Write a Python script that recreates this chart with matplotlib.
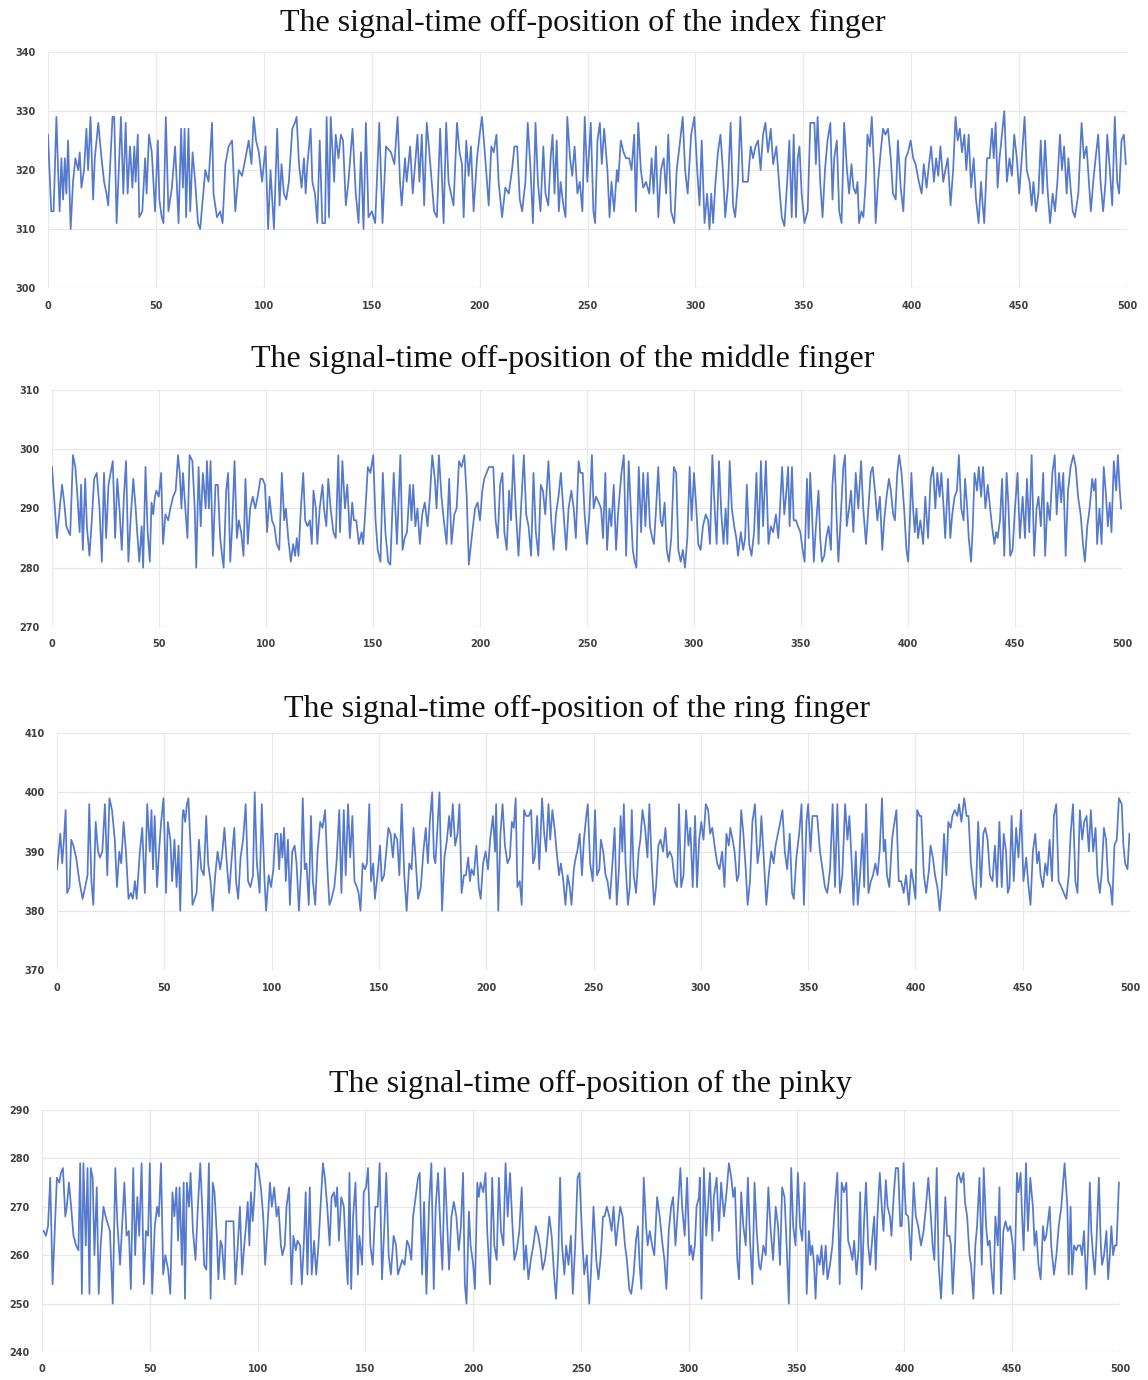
import matplotlib
matplotlib.use("Agg")
import matplotlib.pyplot as plt

# (sample, signal)
index_finger = [
    (0, 326), (1.5, 313), (2.6, 313), (3.9, 329), (4.7, 320), (5.4, 313), (6.2, 322), (7, 315), (7.8, 322), (8.5, 316),
    (9.3, 325), (10.5, 310), (11.6, 318), (12.7, 322), (14, 320), (14.7, 323), (15.5, 317), (16.7, 320), (17.8, 327),
    (18.6, 320), (19.7, 329), (20.9, 315), (21.7, 322), (23.3, 328), (24.8, 322), (26, 318), (27.1, 316), (27.9, 314),
    (29.9, 329), (30.7, 329), (31.8, 311), (33.8, 329), (34.9, 316), (36, 328), (36.9, 316), (38, 324), (39.1, 317),
    (40, 324), (40.6, 318), (41.6, 326), (42.3, 312), (43.7, 313), (45, 322), (45.7, 316), (46.8, 326), (48.1, 323),
    (49.6, 313), (50.9, 325), (51.6, 315), (52.7, 312), (53.5, 311), (54.6, 329), (55.8, 313), (57.4, 317), (58.9, 324),
    (60.5, 311), (61.7, 327), (62.5, 317), (63.3, 327), (64, 312), (65.1, 327), (65.9, 313), (67, 323), (68.2, 318),
    (69.5, 311), (70.5, 310), (72.9, 320), (74.4, 318), (76, 328), (76.7, 316), (78.3, 312), (79.8, 313), (80.9, 311),
    (82.2, 321), (83.7, 324), (85.3, 325), (86.8, 313), (88.4, 320), (89.9, 319), (91.5, 322), (93, 325), (94.3, 321),
    (95.3, 329), (96.4, 325), (97.7, 323), (99.2, 318), (100.8, 324), (102, 310), (103.1, 320), (104.7, 310),
    (106.2, 327), (107.3, 314), (108.2, 321), (109.3, 316), (110.4, 315), (111.6, 318), (113.2, 327), (114.4, 328),
    (115.2, 329), (116.3, 321), (117.5, 317), (118.6, 322), (119.4, 316), (120.2, 321), (121.7, 327), (122.5, 318),
    (123.7, 316), (124.8, 311), (125.9, 325), (127.1, 311), (128.4, 311), (129.1, 329), (130.2, 312), (131, 329),
    (132.6, 318), (133.3, 326), (134.6, 322), (135.7, 326), (136.7, 325), (138, 314), (139.2, 318), (141.1, 327),
    (142.6, 316), (143.9, 311), (145, 323), (146.2, 310), (147.3, 328), (148.5, 312), (150.1, 313), (151.6, 311),
    (153.5, 328), (155, 311), (156.6, 324), (158.9, 323), (160.5, 321), (162, 329),
    (163.1, 318), (163.9, 314), (165.4, 322), (166.2, 318), (167.8, 324), (169, 316), (170.1, 321), (171.2, 326),
    (172.1, 318), (173.2, 326), (174.3, 314), (175.5, 328), (176.7, 323), (177.8, 318), (178.9, 313), (180.2, 312),
    (181.7, 327), (183.3, 311), (184.5, 328), (185.6, 318), (186.7, 316), (187.9, 314), (189.5, 328), (190.7, 323),
    (191.8, 321), (192.6, 312), (193.8, 325), (194.9, 319), (196, 324), (197.2, 313), (198.8, 322), (200, 326),
    (201.1, 329), (202.6, 322), (204.2, 314), (205.4, 324), (206.5, 323), (207.8, 326), (208.8, 318), (210.4, 312),
    (211.9, 317), (213.5, 316), (215, 320), (216.1, 324), (217.4, 324), (218.6, 315), (219.7, 313), (221.2, 318),
    (222.3, 328), (223.6, 320), (224.7, 311), (225.9, 328), (227, 318), (228.2, 313), (229.5, 324), (230.5, 316),
    (231.8, 314), (232.9, 322), (233.8, 326), (234.7, 316), (235.7, 325), (236.7, 313), (237.5, 318), (238.8, 314),
    (239.8, 312), (240.6, 329), (241.9, 322), (242.9, 319), (244, 324), (245.3, 316), (246.4, 318), (247.6, 313),
    (248.7, 329), (249.9, 318), (251.5, 328), (252.7, 313), (253.5, 311), (254.6, 325), (255.7, 328), (256.6, 321),
    (257.7, 327), (259.2, 320), (260.2, 312), (261.1, 318), (262.3, 313), (263.6, 320), (264.2, 318), (265.4, 325),
    (266.7, 323), (267.8, 322), (269.3, 322), (270.4, 320), (271.6, 326), (272.4, 313), (273.5, 328), (274.7, 320),
    (275.8, 317), (277.1, 318), (278.6, 316), (279.7, 322), (280.6, 316), (281.7, 324), (282.8, 312), (284, 320),
    (285.3, 322), (286.4, 316), (287.4, 326), (288.7, 313), (290.2, 311), (291.3, 320), (292.6, 324), (294.1, 329),
    (295.2, 320), (296.4, 316), (298, 326), (299.5, 329), (300.8, 320), (301.9, 314), (302.9, 325), (304.2, 311),
    (305.4, 316), (306.5, 310), (307.3, 316), (308.2, 311), (309.1, 317), (310.4, 323), (311.6, 326), (312.7, 320),
    (313.8, 312), (315, 317), (316.3, 328), (317.4, 314), (318.4, 312), (319.7, 318), (320.8, 329), (322, 318),
    (323.1, 318), (324.3, 318), (325.6, 324), (326.7, 322), (327.8, 324), (329, 325), (330.2, 320), (331.3, 326),
    (332.4, 328), (333.6, 323), (334.9, 327), (336, 321), (337.5, 324), (339.1, 316),
    (340, 312), (341.2, 310.5), (342.5, 318), (343.5, 325), (344.6, 312), (345.5, 326), (346.6, 312), (347.4, 322),
    (348.2, 324), (349.2, 316), (350.5, 311), (352, 313), (353.2, 328), (354.3, 328), (355.1, 328), (355.8, 321),
    (356.6, 329), (357.8, 318), (358.9, 312), (360, 320), (361.2, 325), (362.5, 328), (363.5, 315), (364.3, 322),
    (365.5, 325), (366.6, 313), (367.7, 311), (368.9, 328), (370.2, 320), (371.2, 316), (372.3, 321), (373.2, 317),
    (374.3, 316), (375.1, 318), (375.8, 311), (376.9, 313), (377.8, 312), (378.9, 318), (379.7, 326), (380.8, 324),
    (381.7, 329), (382.8, 320), (383.5, 311), (384.6, 318), (385.8, 323), (386.9, 327), (388, 326), (389.2, 327),
    (390.5, 322), (391.5, 316), (392.8, 315), (393.8, 325), (395.1, 317), (396.3, 313), (397.4, 322), (398.5, 323),
    (399.7, 325), (400.9, 322), (402, 321), (403.5, 318), (404.8, 316), (405.8, 321), (407.1, 317), (408.2, 321),
    (409.2, 324), (410.5, 318), (411.5, 322), (412.5, 319), (413.5, 324), (414.8, 318), (415.8, 320), (416.9, 322),
    (418.2, 314), (419.4, 320), (420.5, 329), (421.5, 325), (422.5, 327), (423.5, 323), (424.6, 326), (425.5, 320),
    (426.6, 326), (427.7, 317), (428.9, 322), (430, 315), (431.2, 311), (432.3, 318), (433.1, 314), (433.8, 311),
    (435.1, 322), (436.3, 322), (437.4, 327), (438.2, 322), (439.1, 328), (440, 317), (440.9, 322), (442, 326),
    (443.1, 330), (444.3, 318), (445.5, 322), (446.6, 319), (447.7, 326), (448.9, 322), (450, 316), (451.2, 322),
    (452.5, 329), (453.5, 320), (454.8, 318), (455.8, 314), (456.6, 318), (457.8, 313), (458.9, 316), (460, 325),
    (460.9, 316), (462, 325), (463.1, 317), (464.3, 311), (465.5, 316), (466.6, 313), (467.7, 318), (468.9, 326),
    (469.8, 320), (470.8, 324), (472, 316), (472.8, 322), (473.8, 317), (474.8, 313), (475.8, 312), (477.4, 316),
    (478.9, 328), (480, 322), (481.2, 324), (482.3, 318), (483.2, 313), (484.3, 318), (485.4, 322), (486.6, 326),
    (487.7, 318), (488.9, 313), (490, 318), (490.8, 326), (492, 320), (493.1, 314), (494.3, 329), (495.4, 318),
    (496.3, 316), (497.4, 325), (498.5, 326), (499.4, 321),
]

middle_finger = [
    (0, 297), (2.3, 285), (3.6, 290), (4.7, 294), (5.7, 291), (6.7, 287), (7.8, 286), (8.5, 285.5), (9.8, 299),
    (10.9, 297), (11.9, 292), (12.9, 286), (13.6, 294), (14.4, 283), (15.5, 295), (16.3, 287), (17.5, 282), (18.6, 288),
    (19.7, 295), (20.9, 296), (22.2, 290), (23.3, 281), (24.3, 296), (25.3, 285), (26.4, 294), (27.4, 296), (28.4, 298),
    (29.5, 285), (30.5, 295), (31.5, 290), (32.6, 283), (33.6, 292), (34.6, 298), (35.7, 281), (36.7, 288), (38, 295),
    (39.1, 290), (39.8, 286), (40.8, 281), (41.9, 287), (42.6, 280), (43.7, 297), (44.7, 286), (45.7, 281), (46.5, 291),
    (47.3, 289), (48.1, 292), (48.8, 293), (49.9, 292), (51, 296), (51.9, 284), (53, 289), (54.3, 288), (55.3, 290),
    (56.6, 292), (57.8, 293), (58.9, 299), (59.7, 296), (60.5, 290), (61.2, 296), (62.5, 289), (63.3, 285), (64.3, 299),
    (65.6, 298), (66.7, 290), (67.4, 280), (68.5, 297), (69.5, 287), (70.5, 296), (71.8, 290), (72.4, 298), (73.3, 290),
    (74.1, 298), (75.2, 282), (76.4, 294), (77.5, 294), (78.6, 285), (79.5, 282), (80.2, 280), (81.4, 293), (82.3, 296),
    (83.3, 281), (84.2, 287), (85.3, 298), (86.4, 285), (87.3, 288), (88.4, 286), (89.5, 282), (90.4, 295), (91.5, 284),
    (92.6, 290), (93.8, 292), (95, 290), (96.1, 292), (97.4, 295), (98.4, 295), (99.5, 294), (100.5, 286), (101.6, 292),
    (102.8, 288), (103.9, 287), (105, 284), (106.2, 283), (107.4, 296), (108.5, 288), (109.3, 290), (110.4, 285),
    (111.6, 281), (112.7, 284), (113.6, 282), (114.4, 285), (115.2, 282), (116.3, 290), (117.4, 296), (118.3, 288),
    (119.4, 287), (120.5, 288), (121.4, 284), (122.2, 293), (123.3, 290), (124, 284), (125.1, 290), (126.4, 294),
    (127.1, 290), (128.2, 287), (129.1, 295), (130.2, 290), (131.5, 286), (132.6, 285), (133.8, 299), (134.6, 286),
    (135.7, 298), (136.9, 290), (138, 294), (139.2, 285), (140.3, 291), (141.1, 288), (142.2, 288), (143.4, 284),
    (144.7, 286), (145.4, 284), (146.5, 290), (147.6, 297), (148.8, 296), (150.1, 299), (151.2, 288), (152.2, 283),
    (153.5, 281), (154.6, 296), (155.8, 286), (157.1, 281), (158.1, 280.5), (159.7, 296), (161.2, 284),
    (162.8, 299), (163.8, 283), (164.8, 285), (165.9, 286), (167.2, 294), (168, 288), (168.8, 294), (169.8, 287),
    (170.8, 290), (171.9, 284), (173, 289), (174.2, 291), (175.5, 287), (176.6, 292), (177.7, 299), (178.9, 295),
    (179.7, 290), (180.8, 299), (182, 292), (183.1, 288), (184.4, 284), (185.6, 295), (186.7, 284), (188, 289),
    (189.1, 290), (190.2, 298), (191.4, 297), (192.7, 299), (193.8, 292), (194.8, 280.5), (196.1, 285), (197.7, 290),
    (198.9, 291), (200, 288), (201.1, 293), (202, 295), (203.1, 296), (204.2, 297), (205.2, 297), (206.2, 297),
    (207.3, 288), (208.3, 285), (209.4, 294), (210.5, 296), (211.4, 286), (212.5, 283), (213.6, 293), (214.5, 288),
    (215.6, 299), (216.7, 290), (218, 282), (219.2, 290), (220.5, 299), (221.6, 289), (222.7, 287), (223.9, 282),
    (225, 296), (226.1, 286), (227.3, 282), (228.4, 294), (229.4, 293), (230.5, 289), (232, 298), (233.3, 288),
    (234.4, 283), (235.5, 289), (236.7, 292), (237.8, 296), (239.1, 289), (240.3, 283), (241.4, 290), (242.7, 293),
    (243.8, 290), (244.8, 285), (246.1, 298), (246.9, 296), (248, 296), (248.9, 289), (250, 284), (251.1, 289),
    (252.3, 299), (253.1, 290), (254.2, 292), (255.5, 291), (256.6, 290), (257.5, 285), (258.6, 296), (259.4, 283),
    (260.5, 290), (261.4, 287), (262.5, 294), (263.6, 283), (264.5, 289), (266.1, 296), (267.2, 299), (268.3, 282),
    (269.5, 298), (270.6, 289), (271.4, 283), (272.3, 281), (273.1, 280), (274.2, 297), (275.3, 286), (276.3, 296),
    (277.3, 287), (278.4, 296), (279.4, 287), (280.5, 285), (281.3, 284), (282.3, 290), (283.3, 297), (284.4, 288),
    (285.2, 287), (286.3, 291), (287.3, 283), (288.3, 281), (289.4, 285), (290.6, 297), (291.7, 296), (292.7, 283),
    (293.8, 281), (294.8, 283), (295.8, 280), (296.9, 285), (298, 297), (298.9, 288), (300, 296), (301.1, 290),
    (302, 284), (303.1, 283), (304.2, 287), (305.5, 289), (306.6, 288), (307.5, 284), (308.6, 299), (309.8, 289),
    (310.6, 284), (311.7, 298), (312.8, 289), (313.8, 284), (314.8, 290), (315.6, 284), (316.7, 298), (317.7, 290),
    (318.8, 287), (319.8, 285), (320.6, 282), (321.9, 286), (323, 283), (323.9, 285), (324.7, 294), (325.8, 284),
    (326.9, 282), (328.1, 286), (329.2, 296), (330.2, 284), (331.3, 298), (332.3, 287), (333.6, 298), (334.8, 284),
    (335.9, 287), (337, 286), (338.3, 289), (339.4, 285),
    (339.9, 288), (341.2, 297), (342.2, 289), (343, 292), (344, 297), (344.7, 287), (345.8, 297), (346.6, 288),
    (347.7, 288), (348.6, 287), (349.7, 286), (350.8, 283), (351.7, 281), (352.8, 295), (353.6, 285), (354.3, 296),
    (355.1, 290), (356, 281), (357, 287), (358.2, 293), (359, 285), (359.8, 281), (360.9, 282), (361.8, 285),
    (362.9, 287), (364, 283), (364.7, 294), (365.7, 299), (366.7, 288), (367.5, 281), (368.8, 290), (369.8, 297),
    (370.6, 299), (371.4, 287), (372.5, 290), (373.4, 293), (374.5, 286), (375.6, 296), (376.8, 290), (378.1, 298),
    (379.1, 290), (380.4, 284), (381.5, 290), (382.6, 296), (383.5, 297), (384.6, 293), (385.7, 288), (386.9, 292),
    (388, 283), (388.9, 288), (390, 292), (391.1, 295), (392, 293), (393.1, 289), (393.9, 288), (395, 296),
    (395.9, 299), (397, 296), (398.2, 290), (399.3, 283), (400.1, 281), (400.9, 288), (401.6, 296), (402.4, 290),
    (403.2, 286), (404, 290), (404.7, 285), (405.8, 288), (407.1, 284), (408.1, 292), (409.4, 285), (410.6, 295),
    (411.7, 297), (412.8, 290), (413.7, 296), (414.8, 292), (415.6, 296), (416.7, 290), (417.4, 285), (418.7, 295),
    (419.8, 285), (420.7, 289), (421.8, 292), (422.9, 293), (423.8, 299), (424.9, 290), (426, 288), (426.7, 295),
    (427.7, 290), (428.4, 285), (429.5, 281), (430.3, 287), (431.1, 296), (432.3, 293), (433.1, 297), (434.2, 292),
    (435.1, 297), (436.2, 290), (437.3, 294), (438.4, 290), (439.3, 287), (440.4, 284), (441.2, 286), (441.9, 285),
    (443, 288), (444, 295), (445, 282), (446.1, 296), (446.9, 291), (447.8, 282), (448.9, 283), (450, 290),
    (451.2, 296), (452.3, 285), (453.6, 292), (454.7, 285), (455.6, 295), (456.7, 286), (457.8, 299), (459, 282),
    (460.1, 290), (461, 292), (462.1, 287), (463.2, 296), (464.1, 282), (465.2, 291), (466.3, 288), (467.5, 296),
    (468.6, 299), (469.5, 289), (470.6, 296), (471.6, 291), (472.6, 296), (473.7, 282), (474.8, 293), (476, 297),
    (477.3, 299), (478.4, 297), (479.5, 292), (480.7, 289), (481.8, 284), (482.7, 281), (483.8, 287), (484.9, 290),
    (486.1, 295), (486.9, 293), (487.7, 295), (488.4, 284), (489.5, 290), (490.5, 284), (491.5, 297), (492.6, 292),
    (493.4, 287), (494.3, 291), (495.1, 286), (496.2, 298), (497.3, 293), (498.1, 299), (499, 293), (499.6, 290),
]

ring_finger = [
    (0, 387), (1.5, 393), (2.4, 388), (3.2, 392), (4, 397), (4.7, 383), (5.8, 384), (6.6, 392), (7.6, 391), (8.9, 389),
    (10.4, 385), (11.9, 382), (13.1, 384), (14.2, 386), (15, 398), (16, 385), (16.9, 381), (18, 395), (19.1, 390),
    (20, 389), (21.1, 390), (22.3, 398), (23.4, 386), (24.4, 399), (25.6, 397), (26.9, 392), (27.9, 384), (29, 390),
    (29.9, 388), (31, 395), (32.1, 390), (33.3, 382), (34.4, 383), (35.3, 382), (36.3, 385), (37.1, 382), (38.6, 390),
    (39.7, 394), (40.9, 383), (42, 398), (43.2, 390), (44, 397), (44.7, 387), (45.5, 396), (46.6, 384), (47.5, 390),
    (48.5, 395), (49.6, 399), (50.8, 383), (51.6, 395), (52.8, 392), (53.6, 385), (54.7, 392), (55.7, 384), (56.6, 391),
    (57.4, 380), (58.5, 396), (58.9, 397), (59.7, 395), (60.5, 398), (61.2, 399), (62.3, 390), (63.1, 381), (64.1, 382),
    (65, 383), (66.1, 392), (67.2, 387), (68.4, 386), (69.5, 396), (70.4, 388), (71.5, 385), (72.5, 380), (73.7, 386),
    (74.8, 390), (76, 387), (76.8, 389), (78, 394), (79.1, 388), (80.2, 383), (81.4, 389), (82.6, 394), (83.4, 385),
    (84.4, 382), (85.5, 389), (86.7, 392), (87.9, 398), (89, 385), (90.1, 384), (91.3, 386), (92.1, 400), (93.1, 388),
    (94.4, 383), (95.4, 398), (96.7, 385), (97.4, 380), (98.6, 386), (99.7, 384), (100.8, 387), (101.7, 393),
    (102.7, 393), (103.5, 387), (104.3, 393), (105, 389), (105.8, 394), (106.6, 385), (107.6, 392), (108.5, 381),
    (109.6, 390), (110.7, 391), (111.6, 388), (112.7, 380), (113.7, 387), (114.5, 399), (115.4, 387), (116.2, 388),
    (117.3, 381), (118.3, 396), (119.2, 385), (120.3, 381), (121.4, 390), (122.6, 395), (123.7, 394), (124.9, 397),
    (126, 387), (126.9, 381), (127.9, 382), (129.2, 384), (130.2, 388), (131.5, 397), (132.5, 383), (133.6, 397),
    (134.5, 386), (135.6, 398), (136.6, 389), (137.6, 396), (138.6, 385), (139.7, 384), (140.5, 383), (141.4, 380),
    (142.4, 388), (143.5, 387), (144.4, 388), (145.5, 398), (146.3, 385), (147.3, 388), (148.1, 382), (149.3, 386),
    (150.5, 391), (151.3, 385), (152.4, 386), (153.4, 390), (154.4, 394), (155.4, 393), (156.5, 389),
    (157.3, 393), (158.5, 392), (159.5, 386), (160.6, 398), (161.8, 386), (162.9, 380), (164.1, 388), (165.2, 387),
    (166.1, 394), (167.2, 388), (168.2, 382), (169.5, 384), (170.7, 390), (171.8, 394), (172.8, 388), (173.7, 395),
    (174.8, 400), (175.6, 389), (176.3, 388), (177.1, 393), (178.2, 400), (179.4, 380), (180.5, 389), (181.7, 392),
    (182.7, 396), (183.5, 392.5), (184.4, 398), (185.5, 391), (186.6, 393), (187.5, 398), (188.5, 383), (189.6, 386),
    (190.5, 386), (191.6, 389), (192.4, 385), (193.1, 387), (194.2, 386), (195.4, 391), (196.5, 384), (197.4, 382),
    (198.5, 388), (199.7, 390), (200.8, 387), (201.8, 392), (203.1, 396), (204.1, 390), (204.6, 398), (205.6, 380),
    (206.6, 393), (207.6, 398), (208.7, 391), (209.9, 388), (211, 389), (211.9, 395), (212.8, 394), (213.7, 399),
    (214.5, 384), (215.6, 385), (216.5, 381), (217.6, 397), (218.6, 396), (219.8, 396), (220.9, 397), (221.8, 388),
    (222.6, 389), (223.7, 396), (224.7, 387), (226, 399), (227, 393), (227.9, 390), (229, 398), (229.8, 392),
    (230.8, 397), (231.8, 394), (232.8, 390), (233.9, 386), (234.8, 388), (235.9, 385), (236.9, 381), (237.9, 386),
    (238.9, 384), (239.7, 381), (240.8, 387), (241.7, 389), (242.4, 390), (243.5, 393), (244.6, 386), (245.5, 392),
    (246.6, 396), (247.3, 398), (248.4, 388), (249.6, 385), (250.7, 397), (251.6, 386), (252.7, 387), (253.4, 392),
    (254.5, 390), (255.6, 386), (256.5, 385), (257.6, 382), (258.8, 388), (259.8, 394), (260.8, 381), (261.8, 387),
    (262.6, 396), (263.4, 390), (264.1, 398), (264.9, 388), (266, 381), (266.9, 384), (267.8, 397), (268.7, 386),
    (269.8, 383), (271, 390), (271.8, 392), (272.8, 397), (274, 394), (275.1, 389), (276, 398), (277.1, 388),
    (278.2, 381), (279.1, 384), (280.2, 391), (281.2, 392), (282.4, 390), (283.5, 394), (284.4, 389), (285.5, 390),
    (286.6, 389), (287.8, 385), (288.9, 384), (289.8, 398), (290.8, 384), (291.9, 386), (293.1, 397), (294.2, 391),
    (295.1, 394), (296.2, 384), (297.3, 396), (298.2, 384), (299.2, 392), (300.2, 395), (301.2, 392), (302.3, 398),
    (303.4, 397), (304.3, 393), (305.3, 394), (306.4, 391), (307.6, 388), (308.7, 387), (309.9, 390), (311, 384),
    (311.9, 393), (313, 391), (313.7, 394), (314.8, 392), (315.7, 390), (316.8, 385), (317.6, 386), (318.8, 397),
    (319.8, 393), (320.9, 387), (321.8, 381), (322.9, 385), (324, 395), (325.2, 398), (326.4, 388), (327.5, 391),
    (328.2, 396), (329.3, 389), (330.5, 381), (331.6, 386), (332.8, 390),
    (333.9, 388), (334.8, 391), (335.9, 393), (337, 395), (338, 397), (339.1, 390), (340.2, 387), (341.4, 393),
    (342.5, 383), (343.3, 382), (344.5, 389), (345.8, 393), (346.9, 398), (348, 381), (349.2, 395), (350, 398),
    (351.1, 390), (352, 396), (353.1, 396), (354.2, 396), (355.5, 390), (356.7, 387), (357.8, 384), (358.9, 383),
    (360.2, 387), (361.4, 398), (362.5, 384), (363.6, 398), (364.8, 383), (365.9, 386), (367.2, 398), (368.3, 392),
    (369.2, 396), (370.3, 388), (371.1, 381), (372.2, 390), (373.1, 381), (374.2, 386), (375.3, 393), (376.1, 384),
    (377, 398), (378.1, 383), (379.2, 385), (380.2, 386), (381.3, 388), (382.3, 386), (383.3, 390), (384.4, 399),
    (385.2, 390), (385.9, 392), (386.7, 386), (387.8, 384), (389.1, 392), (389.8, 394), (391.1, 397), (392.2, 385),
    (393.3, 385), (394.5, 383), (395.6, 386), (396.9, 381), (398, 387), (398.9, 385), (400, 382), (400.8, 397),
    (401.9, 396), (402.7, 396), (403.9, 386), (405, 383), (406.3, 387), (407, 391), (408.1, 389), (409.1, 386),
    (410.2, 384), (411.3, 380), (412.2, 384), (413.3, 393), (414.4, 386), (415.3, 395), (416.4, 394), (417.2, 396),
    (418.3, 397), (419.5, 396), (420.3, 398), (421.4, 395), (422.7, 399), (423.8, 396), (424.7, 396), (425.8, 388),
    (427, 384), (428.1, 382), (429.2, 395), (430.5, 384), (431.6, 393), (432.5, 394), (433.6, 392), (434.7, 386),
    (435.9, 385), (437, 391), (438, 384), (439.1, 395), (440.2, 384), (441.1, 393), (442.2, 390), (443, 383),
    (443.8, 384), (444.8, 396), (445.8, 385), (446.9, 394), (448, 389), (449.2, 397), (450.3, 385), (451.6, 389),
    (452.7, 384), (453.6, 381), (454.7, 390), (455.8, 393), (456.7, 388), (457.5, 390), (458.3, 386), (459.4, 384),
    (460.5, 388), (461.4, 386), (462.5, 392), (463.6, 385), (464.5, 396), (465.6, 398), (466.7, 385), (468, 384),
    (469.1, 383), (470.3, 382), (471.4, 386), (472.3, 393), (473.4, 398), (474.5, 385), (475.5, 383), (476.6, 397),
    (477.7, 392), (478.6, 395), (479.7, 396), (480.8, 390), (481.7, 397), (482.8, 390), (483.9, 394), (484.8, 386),
    (485.9, 383), (486.7, 386), (487.8, 394), (488.8, 392), (489.8, 385), (490.9, 384), (491.7, 381), (492.7, 391),
    (493.8, 392), (494.8, 399), (496.1, 398), (496.9, 391), (497.7, 388), (498.8, 387), (499.7, 393),
]

pinky = [
    (0.8, 265), (1.8, 264), (2.8, 266), (3.8, 276), (4.9, 254), (5.8, 264), (6.9, 276), (8, 275), (8.8, 277), (9.7, 278),
    (10.8, 268), (11.5, 270), (12.5, 275), (13.5, 270), (14.6, 264), (15.8, 262), (16.9, 261), (17.7, 279), (18.5, 252),
    (19.2, 279), (20.3, 262), (21.1, 278), (22, 252), (22.6, 278), (23.5, 276), (24.3, 260), (25.4, 274), (26.3, 252),
    (27.2, 262), (28.5, 270), (29.5, 268), (30.8, 266), (31.5, 265), (32.8, 250), (34, 278), (34.9, 267), (36.2, 258),
    (36.9, 264), (38.2, 275), (39.2, 264), (40.3, 265), (41.2, 253), (42.3, 278), (43.2, 260), (44.2, 272), (45.1, 264),
    (46.2, 279), (47.2, 254), (48.2, 265), (49.2, 264), (50, 279), (51.1, 252), (52.3, 266), (53.4, 270), (54.2, 268),
    (55.2, 279), (56.2, 256), (57.2, 260), (58.5, 257), (59.5, 252), (60.5, 273), (61.4, 268), (62.3, 274), (63.1, 263),
    (63.8, 274), (64.9, 258), (65.7, 275), (66.3, 251), (67.2, 275), (68.2, 270), (68.9, 277), (70, 265), (71.2, 259),
    (72.3, 270), (73.4, 279), (74.3, 270), (75.2, 258), (76.2, 257), (77.4, 279), (78.2, 251), (79.2, 275), (80, 273),
    (81.1, 264), (81.8, 255), (82.8, 263), (83.5, 262), (84.6, 255), (85.4, 267), (86.6, 267), (87.7, 267), (88.8, 267),
    (89.7, 254), (90.8, 262), (91.8, 270), (92.8, 256), (93.8, 262), (94.6, 266), (95.4, 271), (96.2, 262), (96.9, 273),
    (97.7, 267), (98.5, 272), (99.2, 279), (100.3, 278), (101.5, 274), (102.6, 268), (103.5, 258), (104.6, 266),
    (105.7, 275), (106.6, 270), (107.7, 274), (108.8, 268), (109.7, 270), (110.8, 262), (111.5, 260), (112.6, 262),
    (113.4, 270), (114.6, 274), (115.7, 254), (116.6, 264), (117.7, 261), (118.5, 263), (119.7, 262), (120.5, 254),
    (121.5, 263), (122.3, 273), (123.1, 256), (124.2, 274), (125.1, 256), (126.2, 263), (127.2, 256), (128.2, 262),
    (129.2, 270), (130.3, 279), (131.2, 276), (132.3, 270), (133.4, 262), (134.3, 272), (135.4, 273), (136.2, 270),
    (136.9, 274), (137.7, 263), (138.8, 272), (140, 270), (140.8, 262), (141.8, 254), (142.6, 277), (143.4, 253),
    (144.3, 268), (145.4, 275), (146.5, 256), (147.2, 264), (148.5, 258), (149.2, 273), (150.3, 274), (151.2, 278),
    (152.3, 262), (153.4, 258), (154.6, 270), (155.7, 270), (156.6, 279), (157.7, 255), (158.8, 266), (159.7, 277),
    (160.8, 260), (161.8, 256), (163.1, 264), (164.2, 262), (165.1, 256),
    (167.1, 259), (168.2, 258), (169.3, 263), (170.2, 262), (171.3, 259), (172.1, 268), (173.3, 272), (174.4, 276),
    (175.2, 277), (176.3, 256), (177.2, 271), (178.3, 252), (179.5, 270), (180.6, 279), (181.7, 253), (182.6, 270),
    (183.7, 277), (184.8, 265), (185.7, 257), (186.8, 278), (187.6, 270), (188.8, 257), (189.9, 268), (191, 271),
    (192.2, 268), (193.3, 261), (194.3, 266), (195.3, 277), (196.1, 254), (196.9, 250), (198, 269), (198.8, 262),
    (200, 258), (200.8, 253), (201.9, 275), (202.6, 272), (203.4, 275), (204.7, 273), (205.7, 277), (206.5, 265),
    (207.8, 254), (208.8, 276), (209.8, 262), (210.9, 259), (211.9, 276), (212.9, 265), (214, 262), (215, 279),
    (216, 268), (217.1, 277), (218.1, 267), (219.1, 259), (220.2, 261), (221.4, 265), (222.5, 274), (223.6, 257),
    (224.5, 262), (225.6, 255), (226.7, 259), (227.9, 262), (229, 266), (230.2, 264), (231.3, 261), (232.2, 257),
    (233.3, 259), (234.1, 262), (235.3, 268), (236.4, 264), (237.5, 256), (238.4, 251), (239.5, 261), (240.3, 276),
    (241.2, 262), (242.3, 256), (243.1, 262), (244.2, 258), (245.3, 264), (246.2, 252), (247.3, 262), (248.4, 276),
    (249.3, 277), (250.4, 265), (251.5, 256), (252.7, 260), (253.8, 250), (254.7, 257), (255.8, 270), (257.1, 259),
    (258.1, 255), (259.2, 260), (260.2, 268), (260.9, 268), (262, 270), (263.1, 268), (264.2, 265), (265.1, 270),
    (266.2, 262), (267.1, 266), (268.2, 270), (269.3, 268), (270.4, 262), (271.3, 259), (272.4, 253), (273.3, 252),
    (274.4, 256), (275.5, 263), (276.4, 266), (277.2, 258), (278, 253), (279.1, 276), (280.2, 266), (280.9, 262),
    (281.9, 265), (283, 262), (284, 260), (285.3, 272), (286.5, 268), (287.6, 263), (288.7, 259), (289.6, 253),
    (290.7, 265), (291.8, 270), (292.7, 272), (293.8, 262), (295, 270), (296.1, 278), (296.9, 270), (298.1, 264),
    (299.2, 276), (300.3, 260), (301.1, 262), (301.9, 259), (302.8, 262), (303.6, 270), (304.7, 272), (305.1, 276),
    (305.9, 251), (307, 278), (308.1, 264), (309, 271), (309.8, 277), (310.9, 263), (311.6, 272), (312.9, 276),
    (314, 265), (315, 275), (316.3, 268), (317.5, 273), (318.6, 279), (319.7, 276), (320.6, 272), (321.4, 274),
    (322.5, 259), (323.3, 255), (324.3, 273), (325.3, 266), (326.4, 262), (327.4, 276), (328.4, 263), (329.5, 254),
    (330.5, 275), (331.5, 265), (332.6, 258), (333.3, 257), (334.6, 262), (335.7, 260), (336.9, 274), (338, 265),
    (339.1, 259), (340.3, 270), (341.4, 266), (342.3, 258),
    (343.3, 274), (344.4, 272), (345.3, 263), (346.4, 250), (347.5, 278), (348.4, 266), (349.5, 262), (350.6, 277),
    (351.6, 266), (352.6, 263), (353.7, 275), (354.7, 252), (355.7, 265), (356.5, 260), (357.3, 262), (358.1, 258),
    (358.8, 251), (359.6, 260), (360.7, 258), (361.6, 262), (362.4, 256), (363.5, 262), (364.3, 255), (365.5, 258),
    (366.6, 262), (367.7, 270), (368.9, 277), (370, 254), (370.9, 275), (372, 273), (373.1, 275), (373.9, 263),
    (374.8, 261.5), (375.9, 259), (376.7, 263), (377.8, 256), (378.7, 261), (379.5, 273), (380.2, 253), (381.3, 267),
    (382.2, 275), (383.2, 262), (384.1, 258), (385.2, 264), (386, 268), (386.7, 257), (387.5, 268), (388.6, 277),
    (389.5, 270), (390.3, 265), (391.4, 275.5), (392.2, 270), (393.3, 268), (394, 264), (395, 272), (396, 278),
    (397.1, 278), (398.1, 266), (398.8, 266), (399.6, 279), (400.7, 268.5), (401.8, 268), (403, 259), (404.3, 275),
    (405.3, 268), (406.4, 266), (407.7, 262), (408.9, 265), (410, 270), (411.1, 276), (412, 270), (413.1, 262),
    (413.9, 259), (415, 278), (415.9, 258), (417, 251), (418.1, 262), (419, 272), (419.8, 264), (420.9, 264),
    (421.6, 262), (422.4, 252), (423.5, 262), (424.4, 276), (425.2, 277), (426.3, 275), (427.4, 277), (428.1, 271),
    (429.1, 268), (430.2, 260), (430.9, 258), (432, 251), (432.9, 262), (433.7, 266), (434.8, 276), (435.9, 258),
    (436.8, 278), (437.9, 266), (438.7, 262), (439.6, 263), (440.2, 258), (441.3, 252), (442.2, 268), (443.3, 262),
    (444.1, 274), (444.8, 252), (445.9, 265), (446.9, 267), (448, 265), (449.1, 266), (450.3, 262), (451.1, 255),
    (452.2, 277), (452.9, 273), (453.9, 277), (454.5, 269), (455.3, 261), (456.4, 279), (457.3, 265), (458.4, 276),
    (459.6, 270), (460.4, 262), (461.2, 265), (462.2, 258), (463.2, 255), (464.3, 266), (465, 263), (465.8, 264),
    (467.4, 270), (468.1, 262), (469.4, 256), (470.5, 260), (471.6, 266), (472.8, 270), (473.6, 275), (474.3, 279),
    (475.6, 270), (476.2, 256), (477.1, 270), (477.8, 256), (478.7, 262), (479.8, 261), (480.5, 262), (481.6, 262),
    (482.4, 260), (483.3, 265), (484.4, 253), (485.2, 262), (486, 275), (486.7, 265), (487.5, 260), (488.3, 256),
    (489.1, 263), (490.2, 276), (491.1, 262), (491.7, 258), (492.6, 260), (493.7, 265), (494.5, 255), (495.3, 260),
    (496, 266), (496.8, 260), (497.6, 262), (498.4, 262), (499.5, 275),
]

titles = [
    "The signal-time off-position of the index finger",
    "The signal-time off-position of the middle finger",
    "The signal-time off-position of the ring finger",
    "The signal-time off-position of the pinky",
]
y_ranges = [(300, 340), (270, 310), (370, 410), (240, 290)]
series = [index_finger, middle_finger, ring_finger, pinky]

# axes boxes [left, bottom, width, height] and title centres, in figure fractions
boxes = [
    [0.0418, 0.7913, 0.940, 0.171],
    [0.0453, 0.5457, 0.932, 0.1717],
    [0.0497, 0.2971, 0.9347, 0.1717],
    [0.0366, 0.0203, 0.939, 0.1754],
]
title_pos = [(0.508, 0.983), (0.490, 0.740), (0.503, 0.486), (0.514, 0.214)]

line_color = "#5579cc"
grid_color = "#e8e8e8"

fig = plt.figure(figsize=(11.48, 13.8), dpi=100)

for pts, title, (lo, hi), box, (tx, ty) in zip(series, titles, y_ranges, boxes, title_pos):
    ax = fig.add_axes(box)
    t = [p[0] for p in pts]
    v = [p[1] for p in pts]
    ax.plot(t, v, color=line_color, lw=1.25)
    ax.set_xlim(0, 500)
    ax.set_ylim(lo, hi)
    ax.set_xticks(range(0, 501, 50))
    ax.set_yticks(range(lo, hi + 1, 10))
    ax.grid(True, color=grid_color, lw=0.9)
    ax.set_axisbelow(True)
    for s in ax.spines.values():
        s.set_visible(False)
    ax.tick_params(length=0, labelsize=7, labelcolor="#404040", pad=9)
    for lab in ax.get_xticklabels() + ax.get_yticklabels():
        lab.set_fontweight("bold")
    fig.text(tx, ty, title, ha="center", va="center",
             family="Liberation Serif", fontsize=23, color="#111111")

fig.savefig("out.png", dpi=100, facecolor="white")
